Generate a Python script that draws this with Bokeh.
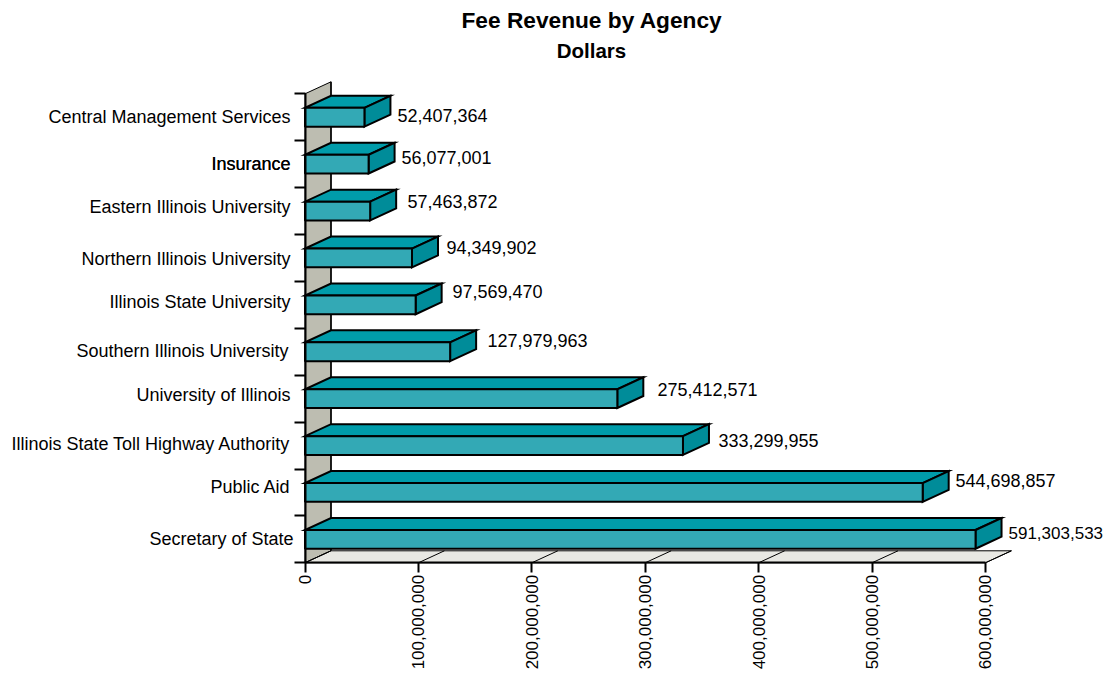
from math import pi
from bokeh.embed import file_html
from bokeh.resources import INLINE
from bokeh.plotting import figure
from bokeh.models import Range1d, LinearAxis, FixedTicker, NumeralTickFormatter
from bokeh.core.properties import value

agencies = ["Secretary of State", "Public Aid", "Illinois State Toll Highway Authority",
            "University of Illinois", "Southern Illinois University", "Illinois State University",
            "Northern Illinois University", "Eastern Illinois University", "Insurance",
            "Central Management Services"]
revenue = [591303533, 544698857, 333299955, 275412571, 127979963, 97569470,
           94349902, 57463872, 56077001, 52407364]
x_ticks = [0, 100000000, 200000000, 300000000, 400000000, 500000000, 600000000]

FONT = value("Liberation Sans")
W, H = 1103, 669
PX_X = 113.4 / 1e8      # pixels per dollar
PX_Y = 46.9             # pixels per row
X0, Y0 = 304.5, 562.3   # picture position of the origin
DX = 26 / PX_X          # depth of the 3-D projection, in data units
DY = 12 / PX_Y
BAR_LO, BAR_HI = 0.30, 0.70

# where the labels sit relative to the marks (pixels)
cat_right = [293, 290, 290, 290, 288, 290, 290, 290, 290, 290]
cat_y = [538, 486, 443, 394, 350, 301, 258, 206, 163, 116]
val_left = [1008, 955, 718, 657, 487, 452, 446, 407, 401, 397]
val_y = [532, 480, 440, 389, 340, 291, 247, 201, 157, 115]


def dx(sx):
    return (sx - X0) / PX_X


def dy(sy):
    return (Y0 - sy) / PX_Y


p = figure(width=W, height=H, output_backend="svg", toolbar_location=None,
           x_range=Range1d(dx(0), dx(W)), y_range=Range1d(dy(H), dy(0)),
           x_axis_type=None, y_axis_type=None, min_border=0,
           outline_line_color=None, background_fill_color="white", border_fill_color="white")
p.grid.visible = False

n = len(agencies)
# back wall
p.patch([0, DX, DX, 0], [0, DY, n + DY, n], fill_color="#BDBDB1", line_color="black", line_width=1)
p.line([DX, DX], [DY, n + DY], line_color="black", line_width=1.5)
# floor
top = x_ticks[-1]
p.patch([0, top, top + DX, DX], [0, 0, DY, DY], fill_color="#E8E8E3", line_color="black", line_width=1)
p.multi_line([[t, t + DX] for t in x_ticks], [[0, DY] for _ in x_ticks], line_color="black", line_width=1)

# bars
rows = list(range(n))
p.patches([[0, v, v + DX, DX] for v in revenue],
          [[r + BAR_HI, r + BAR_HI, r + BAR_HI + DY, r + BAR_HI + DY] for r in rows],
          fill_color="#009CAA", line_color="black", line_width=2, line_join="miter")
p.patches([[v, v + DX, v + DX, v] for v in revenue],
          [[r + BAR_LO, r + BAR_LO + DY, r + BAR_HI + DY, r + BAR_HI] for r in rows],
          fill_color="#008C99", line_color="black", line_width=2, line_join="miter")
p.quad(left=0, right=revenue, bottom=[r + BAR_LO for r in rows], top=[r + BAR_HI for r in rows],
       fill_color="#33A9B5", line_color="black", line_width=2)

# axes
xa = LinearAxis(fixed_location=0, ticker=FixedTicker(ticks=x_ticks),
                formatter=NumeralTickFormatter(format="0,0"))
xa.major_label_orientation = pi / 2
xa.major_label_text_font = "Liberation Sans"
xa.major_label_text_font_size = "17px"
xa.major_label_text_color = "black"
xa.major_label_standoff = 2
xa.major_tick_in = 0
xa.major_tick_out = 10
xa.minor_tick_in = 0
xa.minor_tick_out = 0
xa.axis_line_width = 2
xa.major_tick_line_width = 2
xa.bounds = (0, top)
p.add_layout(xa, "below")

ya = LinearAxis(fixed_location=0, ticker=FixedTicker(ticks=list(range(n + 1))))
ya.major_label_overrides = {i: "" for i in range(n + 1)}
ya.major_tick_in = 0
ya.major_tick_out = 11
ya.minor_tick_in = 0
ya.minor_tick_out = 0
ya.axis_line_width = 2
ya.major_tick_line_width = 2
ya.bounds = (0, n)
p.add_layout(ya, "left")

# category labels
p.text(x=[dx(s) for s in cat_right], y=[dy(s) for s in cat_y], text=agencies,
       text_font=FONT, text_font_size="18px", text_align="right", text_baseline="middle",
       text_color="black")
# "Insurance" is overprinted in the reference, which makes it look darker
p.text(x=[dx(cat_right[8])], y=[dy(cat_y[8])], text=[agencies[8]],
       text_font=FONT, text_font_size="18px", text_align="right", text_baseline="middle",
       text_color="black")
# value labels (the longest one is a little smaller so that it stays inside the picture)
p.text(x=[dx(s) for s in val_left[1:]], y=[dy(s) for s in val_y[1:]],
       text=[f"{v:,}" for v in revenue[1:]],
       text_font=FONT, text_font_size="18px", text_align="left", text_baseline="middle",
       text_color="black")
p.text(x=[dx(val_left[0])], y=[dy(val_y[0])], text=[f"{revenue[0]:,}"],
       text_font=FONT, text_font_size="17px", text_align="left", text_baseline="middle",
       text_color="black")
# titles
p.text(x=[dx(591.5)], y=[dy(19.5)], text=["Fee Revenue by Agency"], text_font=FONT,
       text_font_size="22.7px", text_font_style="bold", text_align="center", text_baseline="middle",
       text_color="black")
p.text(x=[dx(591)], y=[dy(50)], text=["Dollars"], text_font=FONT,
       text_font_size="20.5px", text_font_style="bold", text_align="center", text_baseline="middle",
       text_color="black")

open("out.html", "w").write(file_html(p, INLINE))
